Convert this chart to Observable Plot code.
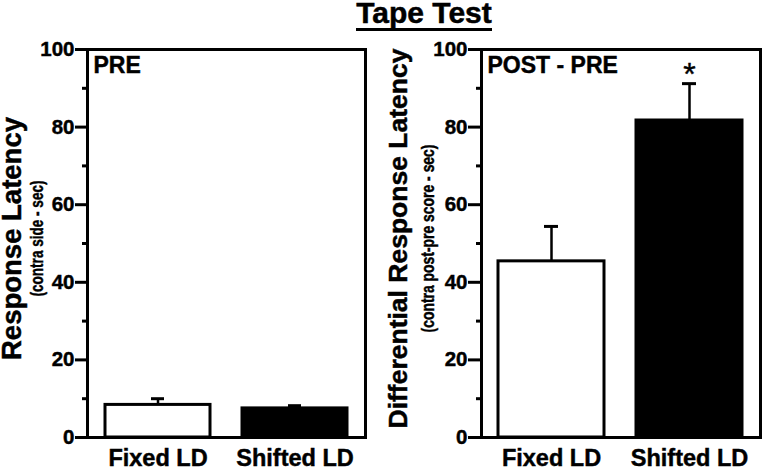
<!DOCTYPE html>
<html><head><meta charset="utf-8">
<script src="https://cdn.jsdelivr.net/npm/d3@7"></script>
<script src="https://cdn.jsdelivr.net/npm/@observablehq/plot@0.6"></script>
<style>
html,body{margin:0;padding:0;background:#fff;}
#wrap{position:relative;width:762px;height:468px;font-family:"Liberation Sans",Arial,sans-serif;overflow:hidden;}
#title{position:absolute;left:324px;width:200px;top:-2px;text-align:center;font-size:30px;font-weight:bold;line-height:1;z-index:2;-webkit-text-stroke:0.5px #000;}
#title span{display:inline-block;border-bottom:3px solid #000;padding-bottom:0px;}
.panel{position:absolute;top:0;}
.panel svg text{stroke:#000;stroke-width:0.45px;}
</style></head><body>
<div id="wrap"><div id="title"><span id="tt"></span></div><div id="left" class="panel" style="left:0"></div><div id="right" class="panel" style="left:381px"></div></div>
<script>
const title = "Tape Test";
const groups = ["Fixed LD", "Shifted LD"];
const groupFills = ["white", "black"];
const preMean = [8.4, 7.5];
const preSem = [1.6, 0.7];
const diffMean = [45.4, 81.7];
const diffSem = [9.0, 9.5];
const majorTicks = [0, 20, 40, 60, 80, 100];
const minorTicks = [10, 30, 50, 70, 90];
const panelTags = ["PRE", "POST - PRE"];
const yLabels = ["Response Latency", "Differential Response Latency"];
const ySubLabels = ["(contra side - sec)", "(contra post-pre score - sec)"];
const sigMarks = [["", ""], ["", "*"]];

document.getElementById("tt").textContent = title;

const layout = [
  {ml: 87, mr: 16, tick: 12, lab: 27.5, labDx: -75, subDx: -50.9, subLen: 116},
  {ml: 100, mr: 2, tick: 13, lab: 26.5, labDx: -82.5, subDx: -53.9, subLen: 188}
];

function panel(i, means, sems) {
  const L = layout[i];
  const data = groups.map((g, j) => ({group: g, mean: means[j], hi: means[j] + sems[j], fill: groupFills[j], sig: sigMarks[i][j]}));
  const svg = Plot.plot({
    width: 381, height: 468,
    marginLeft: L.ml, marginRight: L.mr, marginTop: 49, marginBottom: 31,
    style: {fontFamily: "'Liberation Sans', Arial, sans-serif", fontWeight: "bold", background: "white", overflow: "visible", color: "black"},
    x: {domain: groups, paddingInner: 0.23, paddingOuter: 0.125},
    y: {domain: [0, 100]},
    color: {type: "identity"},
    marks: [
      Plot.ruleX(data, {x: "group", y1: "mean", y2: "hi", stroke: "black", strokeWidth: 2.5}),
      Plot.tickY(data, {x: "group", y: "hi", stroke: "black", strokeWidth: 3, insetLeft: 46, insetRight: 46}),
      Plot.barY(data, {x: "group", y: "mean", fill: "fill", stroke: "black", strokeWidth: 3}),
      Plot.frame({stroke: "black", strokeWidth: 3}),
      Plot.axisY({ticks: majorTicks, tickSize: L.tick, tickPadding: 1, fontSize: 20.5, strokeWidth: 3, label: null}),
      Plot.axisY({ticks: minorTicks, tickSize: 5, tickFormat: () => "", strokeWidth: 3, label: null}),
      Plot.axisX({tickSize: 0, tickPadding: 12, fontSize: 23.5, label: null}),
      Plot.text([panelTags[i]], {frameAnchor: "top-left", dx: 6, dy: 7, fontSize: 23}),
      Plot.text(data, {x: "group", y: "hi", text: "sig", dy: -9, fontSize: 32, fontWeight: "normal"}),
      Plot.text([yLabels[i]], {frameAnchor: "left", textAnchor: "middle", rotate: -90, dx: L.labDx, dy: -5, fontSize: L.lab}),
      Plot.text([ySubLabels[i]], {frameAnchor: "left", textAnchor: "middle", rotate: -90, dx: L.subDx, dy: -5, fontSize: 18.5})
    ]
  });
  d3.select(svg).selectAll("text")
    .filter(function() { return this.textContent === ySubLabels[i]; })
    .attr("textLength", L.subLen)
    .attr("lengthAdjust", "spacingAndGlyphs");
  return svg;
}

document.getElementById("left").append(panel(0, preMean, preSem));
document.getElementById("right").append(panel(1, diffMean, diffSem));
</script>
</body></html>
